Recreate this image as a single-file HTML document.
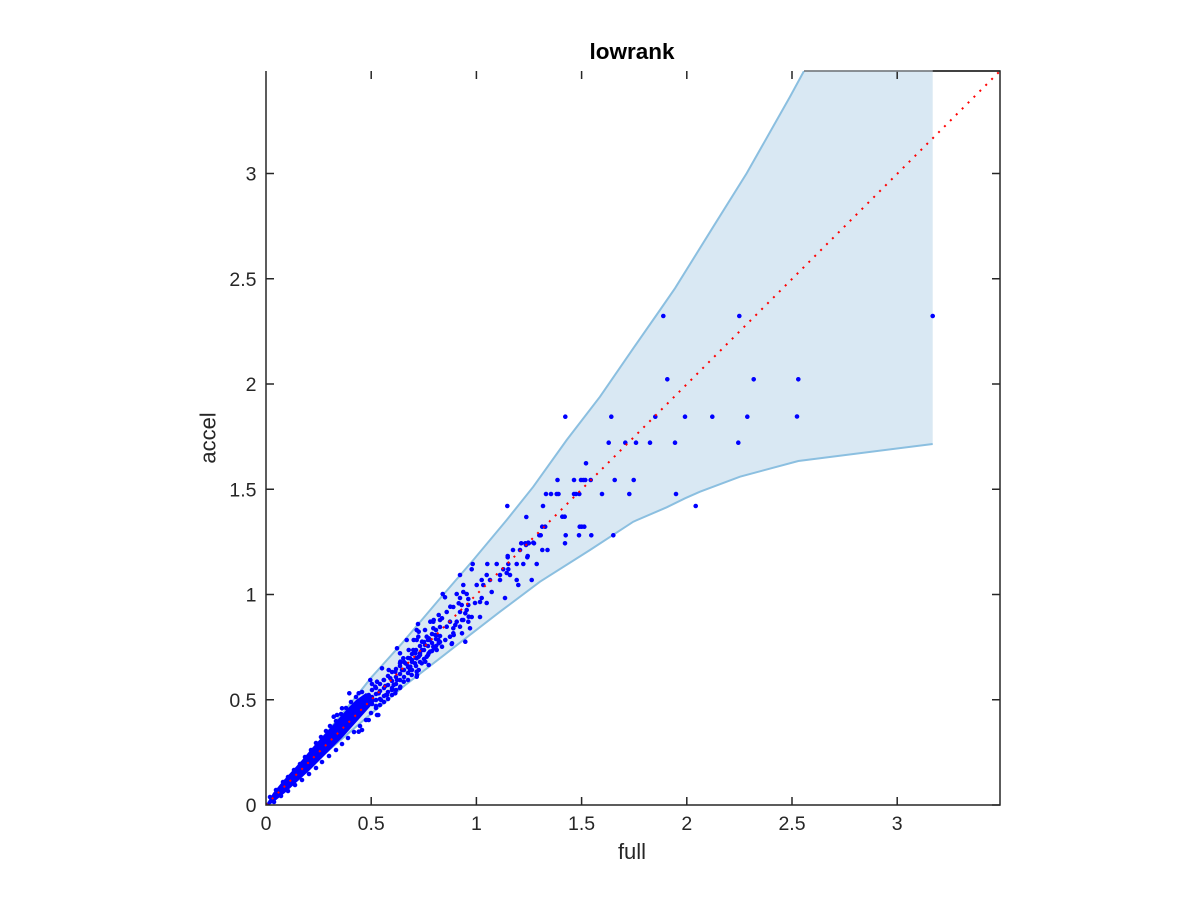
<!DOCTYPE html>
<html><head><meta charset="utf-8"><style>
html,body{margin:0;padding:0;background:#fff;}
svg{display:block;}
text{font-family:"Liberation Sans",Arial,Helvetica,sans-serif;}
</style></head><body>
<svg width="1200" height="900" viewBox="0 0 1200 900" xmlns="http://www.w3.org/2000/svg">
<defs><clipPath id="ax"><rect x="266" y="71" width="734" height="734"/></clipPath></defs>
<rect width="1200" height="900" fill="#fff"/>
<g clip-path="url(#ax)">
<path d="M266,805 L294,772 L322,738.3 L345.3,710 L372,676.7 L402,643.3 L438.7,600 L473.3,560 L506.7,520 L533.3,486.7 L566.7,440 L600,396.7 L633.3,348.3 L660,310 L675,288.3 L713.3,226.7 L746.7,173.3 L790,96.7 L804,71 L932.7,71 L932.7,444 L798.3,461 L740,476.7 L700,491.7 L685,498.3 L666.7,507.3 L633.3,521.7 L590,550 L540,581.7 L500,611.7 L472,633.3 L442,656.7 L405.3,685 L372,713 L340,740.5 L300,775 Z" fill="#d9e8f3"/>
<path d="M266,805 L294,772 L322,738.3 L345.3,710 L372,676.7 L402,643.3 L438.7,600 L473.3,560 L506.7,520 L533.3,486.7 L566.7,440 L600,396.7 L633.3,348.3 L660,310 L675,288.3 L713.3,226.7 L746.7,173.3 L790,96.7 L804,71 L812,56" fill="none" stroke="#8bbfe0" stroke-width="2"/>
<path d="M266,805 L300,775 L340,740.5 L372,713 L405.3,685 L442,656.7 L472,633.3 L500,611.7 L540,581.7 L590,550 L633.3,521.7 L666.7,507.3 L685,498.3 L700,491.7 L740,476.7 L798.3,461 L932.7,444" fill="none" stroke="#8bbfe0" stroke-width="2"/>
<path d="M266,805 L273,793 L282,782 L292,771 L302,760 L312,748 L322,737 L331,727 L340,717 L348,708 L356,700 L366,693 L376,700 L368,709 L360,718 L351,728 L342,738 L332,748 L321,759 L310,770 L298,781 L286,792 L275,801 L268,806 Z" fill="#0000ff"/>
<path fill="none" stroke="#0000ff" stroke-width="4.6" stroke-linecap="round" d="
M663.3,316h.01M739.3,316h.01M932.7,316h.01
M667.3,379.3h.01M753.7,379.3h.01M798.3,379.3h.01
M565.3,416.7h.01M611.3,416.7h.01M655.3,416.7h.01M685,416.7h.01M712.3,416.7h.01M747.3,416.7h.01M797,416.5h.01
M608.7,442.7h.01M625.3,442.7h.01M636,442.7h.01M650,442.7h.01M675,442.7h.01M738.3,442.7h.01
M586,463.3h.01
M557.5,480h.01M574,480h.01M581,480h.01M583.3,480h.01M585.3,480h.01M590.7,480h.01M614.7,480h.01M633.7,480h.01
M546,494h.01M551,494h.01M556.7,494h.01M558.5,494h.01M574,494h.01M576,494h.01M579.3,494h.01M602,494h.01M629.3,494h.01M676,494h.01
M507.3,506h.01M543,506h.01M695.7,506h.01
M526.3,517h.01M562.3,516.7h.01M564.7,516.7h.01
M542.2,526.7h.01M545.2,526.7h.01M579.7,526.7h.01M581.7,526.7h.01M584.3,526.7h.01
M539.3,535.3h.01M540.7,535.3h.01M565.7,535.3h.01M579,535.3h.01M591.3,535.3h.01M613.3,535.3h.01
M521.2,543.3h.01M525.3,543.3h.01M528.8,543.3h.01M534,543.3h.01M565,543.3h.01
M513,550h.01M520,550h.01M542.3,550h.01M547.5,550h.01
M507.7,557.3h.01M527.3,557.3h.01
M528.3,542.7h.01M533.3,542.7h.01M526,545h.01M507.7,556h.01M527.7,556h.01
M472.7,564h.01M487.3,564h.01M496.7,564h.01M508.3,564h.01M516.7,564h.01M523.3,564h.01M536.7,564h.01
M471.7,569.3h.01M503.3,569.3h.01M508.3,569.3h.01
M460,575h.01M486.7,575h.01M500,575h.01M506.7,573h.01M510,575h.01
M481.7,580h.01M490,580h.01M500,580h.01M516.7,580h.01M531.7,580h.01
M463.3,585h.01M476.7,585h.01M483.3,585h.01M518.3,585h.01
M442.7,594h.01M456.7,594h.01M463.3,592h.01M466.7,594h.01M491.7,592h.01
M445,597.3h.01M460,598h.01M468.3,599h.01M481.7,598h.01M486.7,603h.01M505,598h.01
M453.3,607h.01M461.7,605h.01M468.3,605h.01M475,603h.01M480,602h.01
M446.7,612h.01M460,612h.01M466.7,610h.01M471.7,617h.01M480,617h.01
M433.3,621.7h.01M440,620h.01M450,621.7h.01M456.7,621.7h.01M463.3,620h.01M468.3,621.7h.01
M416.7,630h.01M425,630h.01M433.3,628.3h.01M446.7,626.7h.01M453.3,628.3h.01M460,626.7h.01M470,628.3h.01
M418.3,636.7h.01M426.7,636.7h.01M436.7,635h.01M450,636.7h.01M453.3,633.3h.01
M406.7,640h.01M416.7,640h.01M430,640h.01M438.3,640h.01
M425,645h.01M433.3,646.7h.01M451.7,644h.01
M400,653.3h.01M413.3,650h.01M420,653.3h.01M430,651.7h.01M436.7,650h.01
M403.3,658.3h.01M410,658.3h.01M416.7,658.3h.01M426.7,656.7h.01
M400,663.3h.01M406.7,664h.01M415,663.3h.01M421.7,663.3h.01
M403.3,670h.01M410,670h.01M416.7,671.7h.01
M411.7,675h.01M416.7,676.7h.01
M418,624h.01M418.7,631.7h.01M430.3,621.7h.01M433.7,620h.01M442,618.3h.01M438.7,615h.01M455.3,625h.01M462,620h.01M468.7,616.7h.01M450.3,606.7h.01M458.7,603.3h.01M465.3,613.3h.01
M413.7,640h.01M422,641.7h.01M428.7,638.3h.01M435.3,635h.01M438.7,643.3h.01M445.3,640h.01M453.7,635h.01M462,633.3h.01M452,643.3h.01M465.3,641.7h.01
M397,648.3h.01M408.7,650h.01M415.3,653.3h.01M422,650h.01M428.7,653.3h.01M435.3,648.3h.01M442,646.7h.01
M400.3,661.7h.01M405.3,663.3h.01M412,660h.01M418.7,656.7h.01M425.3,661.7h.01M428.7,665h.01M410.3,666.7h.01M418.7,670h.01M417,675h.01
M382,668.3h.01M388.7,670h.01M395.3,671.7h.01M402,670h.01
M370.3,680h.01M377,681.7h.01M383.7,680h.01M390.3,678.3h.01M397,680h.01M403.7,681.7h.01M375.3,686.7h.01M385.3,686h.01M393.7,685h.01M400.3,686.7h.01
M358.7,693.3h.01M368.7,695h.01M378.7,693.3h.01M387,695h.01M395.3,693.3h.01
M349.3,693.3h.01M342,708.3h.01M333.7,716.7h.01M337,715h.01M362,730h.01M358.7,731.7h.01M377,715h.01M368.7,720h.01M378.3,715h.01
M270,797h.01M276,790h.01M283,782h.01M288,777h.01M294,770h.01M300,764h.01M305,757h.01M311,750h.01M316,743h.01M321,737h.01M326,731h.01M330,726h.01M336,721h.01M341,714h.01M346,708h.01M351,702h.01M356,697h.01M362,692h.01
M274,802h.01M281,796h.01M288,791h.01M295,785h.01M302,780h.01M309,774h.01M316,768h.01M322,762h.01M329,756h.01M336,750h.01M342,744h.01M348,738h.01M354,732h.01M360,726h.01M366,720h.01M371,713h.01M376,706h.01M381,700h.01M386,695h.01M392,690h.01
M372,690h.01M372,697h.01M372,704h.01M372,684h.01
M376,688h.01M376,700h.01M376,694h.01M376,708h.01
M380,684h.01M380,691h.01M380,699h.01M380,705h.01
M384,680h.01M384,688h.01M384,696h.01M384,702h.01
M388,676h.01M388,685h.01M388,692h.01M388,699h.01
M392,672h.01M392,681h.01M392,688h.01M392,695h.01
M396,669h.01M396,677h.01M396,684h.01M396,690h.01
M400,666h.01M400,674h.01M400,680h.01M400,688h.01
M404,662h.01M404,670h.01M404,677h.01
M408,658h.01M408,667h.01M408,673h.01M408,680h.01
M412,654h.01M412,662h.01M412,670h.01
M416,650h.01M416,658h.01M416,666h.01
M420,646h.01M420,655h.01M420,662h.01
M424,642h.01M424,650h.01M424,659h.01
M428,640h.01M428,646h.01M428,655h.01
M432,634h.01M432,643h.01M432,651h.01
M436,630h.01M436,639h.01M436,646h.01
M440,627h.01M440,636h.01M440,642h.01
"/>
<path d="M266,805 L1000,71" fill="none" stroke="#ff0000" stroke-width="2" stroke-dasharray="2 6.34"/>
</g>
<g stroke="#262626" stroke-width="1.5" fill="none">
<path d="M266,71 V805 H1000 V71 H804"/>
<path d="M932.7,71 H1000" />
<path d="M371.2,805v-8M476.4,805v-8M581.6,805v-8M686.8,805v-8M792,805v-8M897.2,805v-8"/>
<path d="M371.2,71v8M476.4,71v8M581.6,71v8M686.8,71v8M792,71v8M897.2,71v8"/>
<path d="M266,699.75h8M266,594.5h8M266,489.25h8M266,384h8M266,278.75h8M266,173.5h8"/>
<path d="M1000,805h-8M1000,699.75h-8M1000,594.5h-8M1000,489.25h-8M1000,384h-8M1000,278.75h-8M1000,173.5h-8"/>
</g>
<path d="M804,71 H932.7" stroke="#8a8f95" stroke-width="1.5"/>
<g font-size="19.5" fill="#262626" text-anchor="middle">
<text x="266" y="830">0</text>
<text x="371.2" y="830">0.5</text>
<text x="476.4" y="830">1</text>
<text x="581.6" y="830">1.5</text>
<text x="686.8" y="830">2</text>
<text x="792" y="830">2.5</text>
<text x="897.2" y="830">3</text>
</g>
<g font-size="19.5" fill="#262626" text-anchor="end">
<text x="256.5" y="812">0</text>
<text x="256.5" y="706.75">0.5</text>
<text x="256.5" y="601.5">1</text>
<text x="256.5" y="496.25">1.5</text>
<text x="256.5" y="391">2</text>
<text x="256.5" y="285.75">2.5</text>
<text x="256.5" y="180.5">3</text>
</g>
<text x="632" y="859" font-size="22" fill="#262626" text-anchor="middle">full</text>
<text transform="translate(215.7,438) rotate(-90)" x="0" y="0" font-size="22" fill="#262626" text-anchor="middle">accel</text>
<text x="632" y="59" font-size="22.5" font-weight="bold" fill="#000" text-anchor="middle">lowrank</text>
</svg>
</body></html>
